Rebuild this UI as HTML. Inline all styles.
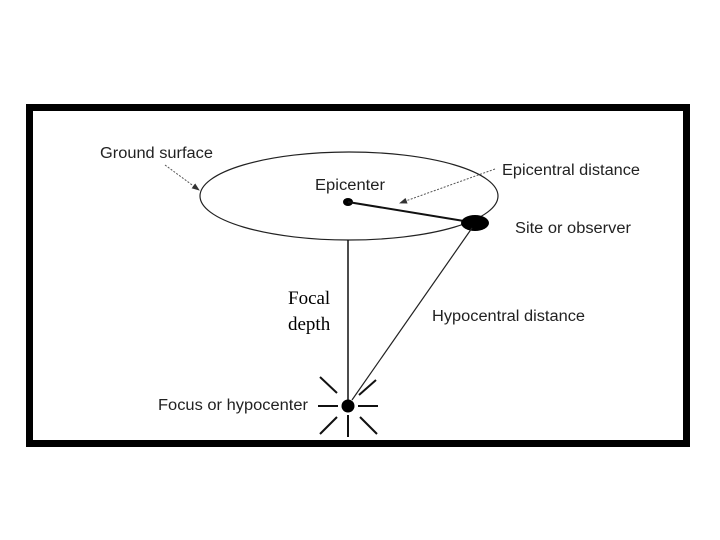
<!DOCTYPE html>
<html><head><style>body{margin:0;background:#fff}svg{display:block}</style></head><body>
<svg width="720" height="540" xmlns="http://www.w3.org/2000/svg">
<rect x="0" y="0" width="720" height="540" fill="#fff"/>
<rect x="29.5" y="107.5" width="657" height="336" fill="none" stroke="#000" stroke-width="7"/>
<defs><marker id="a" markerWidth="8" markerHeight="8" refX="7" refY="4" orient="auto"><path d="M0,1 L8,4 L0,7 z" fill="#333"/></marker></defs>
<ellipse cx="349" cy="196" rx="149" ry="44" fill="none" stroke="#222" stroke-width="1.2"/>
<ellipse cx="348" cy="202" rx="5" ry="4" fill="#000"/>
<line x1="348" y1="202" x2="470" y2="222" stroke="#111" stroke-width="2"/>
<ellipse cx="475" cy="223" rx="14" ry="8" fill="#000"/>
<line x1="348" y1="240" x2="348" y2="406" stroke="#111" stroke-width="1.5"/>
<line x1="472" y1="228" x2="352" y2="400" stroke="#222" stroke-width="1.2"/>
<circle cx="348" cy="406" r="6.5" fill="#000"/>
<g stroke="#111" stroke-width="2">
<line x1="318" y1="406" x2="338" y2="406"/><line x1="358" y1="406" x2="378" y2="406"/>
<line x1="320" y1="377" x2="337" y2="393"/><line x1="376" y1="380" x2="359" y2="395"/>
<line x1="320" y1="434" x2="337" y2="417"/><line x1="377" y1="434" x2="360" y2="417"/>
<line x1="348" y1="415" x2="348" y2="437"/>
</g>
<line x1="165" y1="165" x2="199" y2="190" stroke="#555" stroke-width="1" stroke-dasharray="2,1.5" marker-end="url(#a)"/>
<line x1="495" y1="169" x2="400" y2="203" stroke="#555" stroke-width="1" stroke-dasharray="2,1.5" marker-end="url(#a)"/>
<g font-family="Liberation Sans, sans-serif" font-size="15.5" fill="#222" lengthAdjust="spacingAndGlyphs">
<text x="100" y="158" textLength="113" lengthAdjust="spacingAndGlyphs">Ground surface</text>
<text x="315" y="190" textLength="70" lengthAdjust="spacingAndGlyphs">Epicenter</text>
<text x="502" y="175" textLength="138" lengthAdjust="spacingAndGlyphs">Epicentral distance</text>
<text x="515" y="233" textLength="116" lengthAdjust="spacingAndGlyphs">Site or observer</text>
<text x="432" y="321" textLength="153" lengthAdjust="spacingAndGlyphs">Hypocentral distance</text>
<text x="158" y="410" textLength="150" lengthAdjust="spacingAndGlyphs">Focus or hypocenter</text>
</g>
<g font-family="Liberation Serif, serif" font-size="19" fill="#000">
<text x="288" y="304">Focal</text>
<text x="288" y="330">depth</text>
</g>
</svg>
</body></html>
